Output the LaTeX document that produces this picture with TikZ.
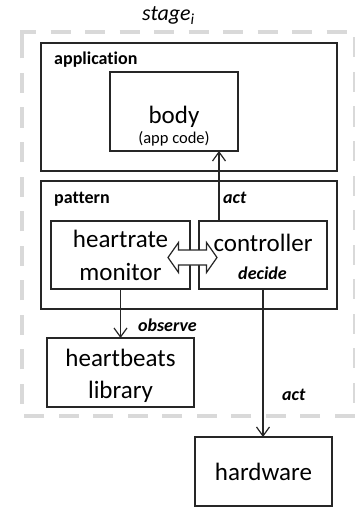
\documentclass[tikz,border=0pt]{standalone}
\usepackage{fontspec}
\setmainfont[Ligatures=NoCommon]{Carlito}
\usetikzlibrary{arrows.meta}
\begin{document}
\begin{tikzpicture}[x=1pt,y=-1pt,
  box/.style={draw=black!85, line width=1.2pt, inner sep=0pt, outer sep=0pt},
  arr/.style={draw=black!85, line width=1.2pt,
    -{Straight Barb[length=9pt,width=13pt,line width=1.2pt]}},
  big/.style={font=\fontsize{25}{30}\selectfont, anchor=base, inner sep=0pt},
  small/.style={font=\fontsize{16.5}{20}\selectfont, anchor=base, inner sep=0pt},
  tag/.style={font=\fontsize{18}{22}\selectfont\bfseries, anchor=base west, inner sep=0pt},
  verb/.style={font=\fontsize{18}{22}\selectfont\bfseries\itshape, inner sep=0pt},
  stageline/.style={draw=black!15, line width=4.3pt, dash pattern=on 20pt off 14.5pt},
  fat/.style={draw=black!85, line width=1.2pt, fill=white, line join=miter}]
\useasboundingbox (0,0) rectangle (354,508);

% dashed stage frame
\draw[stageline] (22,38) -- (22,32) -- (355.5,32) -- (355.5,416) -- (22,416) -- cycle;
\node[anchor=base west, inner sep=0pt, font=\fontsize{22}{26}\selectfont\itshape]
  (stagelbl) at (142,21) {stage\textsubscript{i}};

% boxes
\node[box, minimum width=296pt, minimum height=128pt] (app)  at (189,107)   {};
\node[box, minimum width=128pt, minimum height=79pt]  (body) at (174,111.5) {};
\node[box, minimum width=296pt, minimum height=128pt] (pat)  at (189,245)   {};
\node[box, minimum width=139pt, minimum height=68pt]  (mon)  at (120.5,255) {};
\node[box, minimum width=128pt, minimum height=68pt]  (ctrl) at (263,255)   {};
\node[box, minimum width=147pt, minimum height=69pt]  (lib)  at (120.5,372.5) {};
\node[box, minimum width=137pt, minimum height=69pt]  (hw)   at (263.5,471.5) {};

% box texts
\node[tag] (applbl) at (54,65) {application};
\node[tag] (patlbl) at (54,203) {pattern};
\node[big]   (bodytxt) at (174,123) {body};
\node[small] (bodysub) at (174,143.5) {(app code)};
\node[big] (montxt1) at (120.5,247.3) {heartrate};
\node[big] (montxt2) at (120.5,280) {monitor};
\node[big] (ctrltxt) at (263,251.7) {controller};
\node[verb, anchor=base] (decide) at (262.5,279) {decide};
\node[big] (libtxt1) at (120.5,366) {heartbeats};
\node[big] (libtxt2) at (120.5,398.3) {library};
\node[big] (hwtxt) at (263.5,480.7) {hardware};

% connectors
\coordinate (actx) at (219,0);
\draw[arr] (ctrl.north -| actx) -- (body.south -| actx);
\node[verb, anchor=base west] (actup) at (223,203.3) {act};

\draw[arr] (mon.south) -- (lib.north);
\node[verb, anchor=base west] (observe) at (138,331.7) {observe};

\draw[arr] (ctrl.south) -- (ctrl.south |- hw.north);
\node[verb, anchor=base west] (actdown) at (282,400) {act};

% two-way link between monitor and controller
\coordinate (link) at (192.5,257.5);
\draw[fat] (168,257.5) -- (178.5,242.5) -- (178.5,250) -- (206.5,250)
  -- (206.5,242.5) -- (217,257.5) -- (206.5,272.5) -- (206.5,265)
  -- (178.5,265) -- (178.5,272.5) -- cycle;
\end{tikzpicture}
\end{document}
